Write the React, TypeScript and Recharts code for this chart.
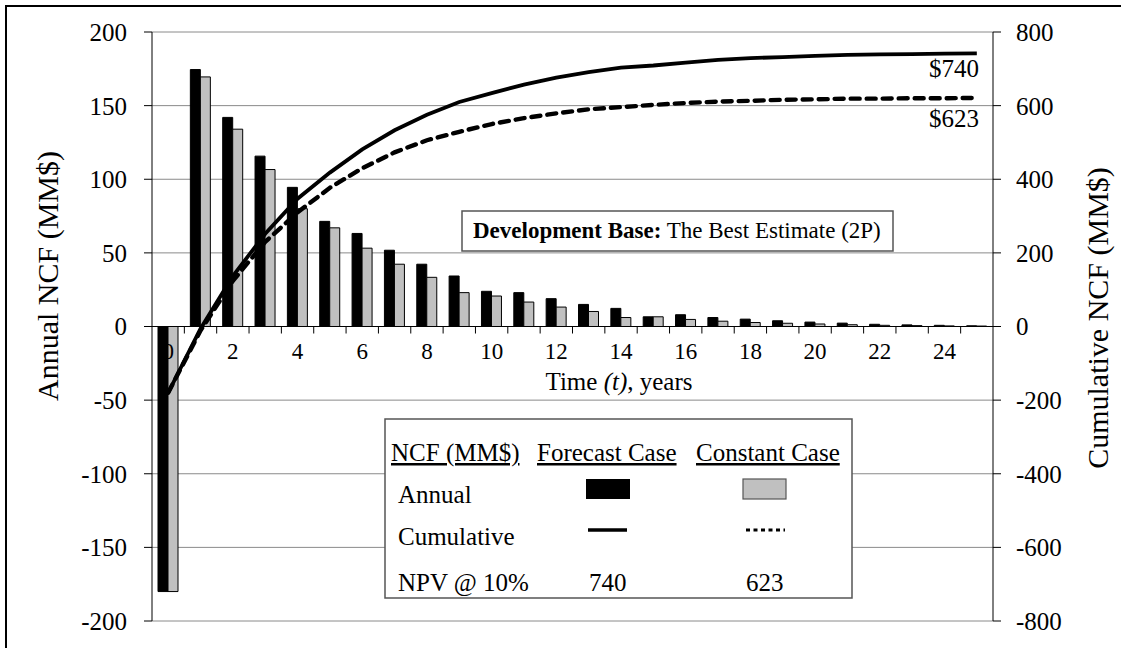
import { ComposedChart, Bar, Line, XAxis, YAxis, CartesianGrid, ReferenceLine } from "recharts";

// Year index on the category axis
const years = [0, 1, 2, 3, 4, 5, 6, 7, 8, 9, 10, 11, 12, 13, 14, 15, 16, 17, 18, 19, 20, 21, 22, 23, 24, 25];

// Annual NCF, MM$ (left axis)
const forecastAnnual = [-180, 174.5, 142, 115.7, 94.5, 71.4, 63.2, 51.8, 42.3, 34.3, 23.9, 23, 18.9, 15, 12.3, 6.6, 8, 6.1, 5, 3.9, 3, 2.3, 1.5, 1.1, 0.8, 0.5];
const constantAnnual = [-180, 169.5, 134, 106.6, 80, 67, 53.2, 42.3, 33.4, 23, 20.7, 16.6, 13.2, 10.2, 6.1, 6.6, 4.8, 3.6, 2.7, 2.2, 1.7, 1.2, 0.8, 0.6, 0.4, 0.3];

// Cumulative NCF, MM$ (right axis)
const forecastCum = [-180, -6, 137, 252, 347, 418, 481, 533, 575, 610, 634, 657, 676, 691, 703, 709, 717, 724, 729, 732, 735, 738, 739, 740, 741, 742];
const constantCum = [-180, -11, 124, 230, 310, 377, 430, 473, 506, 529, 550, 566, 579, 590, 596, 602, 607, 611, 613, 616, 617, 619, 619, 620, 620, 621];

const leftTicks = [-200, -150, -100, -50, 0, 50, 100, 150, 200];
const rightTicks = [-800, -600, -400, -200, 0, 200, 400, 600, 800];

const data = years.map((y, i) => ({
  year: y,
  fa: forecastAnnual[i],
  ca: constantAnnual[i],
  fc: forecastCum[i],
  cc: constantCum[i],
}));

const W = 1121;
const H = 648;
const TOP = 32;
const X_H = 27;
const LEFT_W = 152;
const RIGHT_W = 128;
const PLOT_H = H - TOP - X_H;
const FONT = '"Liberation Serif", "Times New Roman", serif';

// x ticks drawn along the zero line, tick marks between categories (Excel style)
function YearTick(props: any) {
  const { x, index, payload } = props;
  const zeroY = TOP + PLOT_H / 2;
  const band = (W - LEFT_W - RIGHT_W) / years.length;
  return (
    <g>
      {index > 0 && (
        <line x1={x - band / 2} x2={x - band / 2} y1={zeroY} y2={zeroY + 7} stroke="#000" />
      )}
      {index % 2 === 0 && (
        <text x={x} y={zeroY + 32} textAnchor="middle" fontSize={23} fontFamily={FONT} fill="#000">
          {payload.value}
        </text>
      )}
    </g>
  );
}

const tickStyle = { fontSize: 25, fontFamily: FONT, fill: "#000" };

export default function App() {
  return (
    <div style={{ position: "absolute", left: 0, top: 0, width: W, height: H, background: "#fff" }}>
      <ComposedChart
        width={W}
        height={H}
        data={data}
        margin={{ top: TOP, right: 0, bottom: 0, left: 0 }}
        barSize={10}
        barGap={0}
      >
        <CartesianGrid yAxisId="left" vertical={false} stroke="#8a8a8a" />
        <XAxis
          dataKey="year"
          height={X_H}
          axisLine={false}
          tickLine={false}
          interval={0}
          tick={(p: any) => <YearTick {...p} />}
        />
        <YAxis
          yAxisId="left"
          width={LEFT_W}
          domain={[-200, 200]}
          ticks={leftTicks}
          interval={0}
          tick={tickStyle}
          tickSize={8}
          tickMargin={17}
          stroke="#000"
          axisLine={{ stroke: "#000" }}
          tickLine={{ stroke: "#000" }}
        />
        <YAxis
          yAxisId="right"
          orientation="right"
          width={RIGHT_W}
          domain={[-800, 800]}
          ticks={rightTicks}
          interval={0}
          tick={{ ...tickStyle, textAnchor: "start" }}
          tickSize={8}
          tickMargin={15}
          stroke="#000"
          axisLine={{ stroke: "#000" }}
          tickLine={{ stroke: "#000" }}
        />
        <ReferenceLine yAxisId="left" y={0} stroke="#000" strokeWidth={1.2} />
        <Bar yAxisId="left" dataKey="fa" fill="#000" stroke="#000" strokeWidth={1} isAnimationActive={false} />
        <Bar yAxisId="left" dataKey="ca" fill="#c0c0c0" stroke="#000" strokeWidth={1} isAnimationActive={false} />
        <Line
          yAxisId="right"
          dataKey="fc"
          type="linear"
          stroke="#000"
          strokeWidth={3.8}
          dot={false}
          isAnimationActive={false}
        />
        <Line
          yAxisId="right"
          dataKey="cc"
          type="linear"
          stroke="#000"
          strokeWidth={4.4}
          strokeDasharray="9 7"
          strokeLinecap="round"
          dot={false}
          isAnimationActive={false}
        />
      </ComposedChart>

      <svg
        width={W}
        height={H}
        style={{ position: "absolute", left: 0, top: 0, pointerEvents: "none" }}
        fontFamily={FONT}
      >
        {/* outer frame, cropped on the right and bottom */}
        <rect x={6} y={6} width={W + 20} height={H + 20} fill="none" stroke="#000" strokeWidth={2} />

        {/* axis titles */}
        <text transform="translate(47,276) rotate(-90)" textAnchor="middle" dominantBaseline="central" fontSize={30}>
          Annual NCF (MM$)
        </text>
        <text transform="translate(1097,318) rotate(-90)" textAnchor="middle" dominantBaseline="central" fontSize={30}>
          Cumulative NCF (MM$)
        </text>
        <text x={619} y={390} textAnchor="middle" fontSize={25}>
          Time <tspan fontStyle="italic">(t)</tspan>, years
        </text>

        {/* end labels */}
        <text x={979} y={77} textAnchor="end" fontSize={25}>$740</text>
        <text x={979} y={127} textAnchor="end" fontSize={25}>$623</text>

        {/* development base note */}
        <rect x={462} y={211} width={431} height={40} fill="#fff" stroke="#555" strokeWidth={1.5} />
        <text x={473} y={238} fontSize={23}>
          <tspan fontWeight="bold">Development Base:</tspan> The Best Estimate (2P)
        </text>

        {/* legend table */}
        <rect x={385} y={419} width={467} height={179} fill="#fff" stroke="#555" strokeWidth={1.5} />
        <g fontSize={25}>
          <text x={391} y={461} textDecoration="underline">NCF (MM$)</text>
          <text x={537} y={461} textDecoration="underline">Forecast Case</text>
          <text x={696} y={461} textDecoration="underline">Constant Case</text>
          <text x={398} y={503}>Annual</text>
          <text x={398} y={545}>Cumulative</text>
          <text x={398} y={591}>NPV @ 10%</text>
          <text x={589} y={591}>740</text>
          <text x={746} y={591}>623</text>
        </g>
        <rect x={586} y={479} width={44} height={20} fill="#000" />
        <rect x={743} y={479} width={43} height={20} fill="#c0c0c0" stroke="#555" strokeWidth={1.2} />
        <line x1={588} x2={627} y1={530} y2={530} stroke="#000" strokeWidth={3.6} />
        <line x1={746} x2={785} y1={530} y2={530} stroke="#000" strokeWidth={3} strokeDasharray="4 3.5" />
      </svg>
    </div>
  );
}
